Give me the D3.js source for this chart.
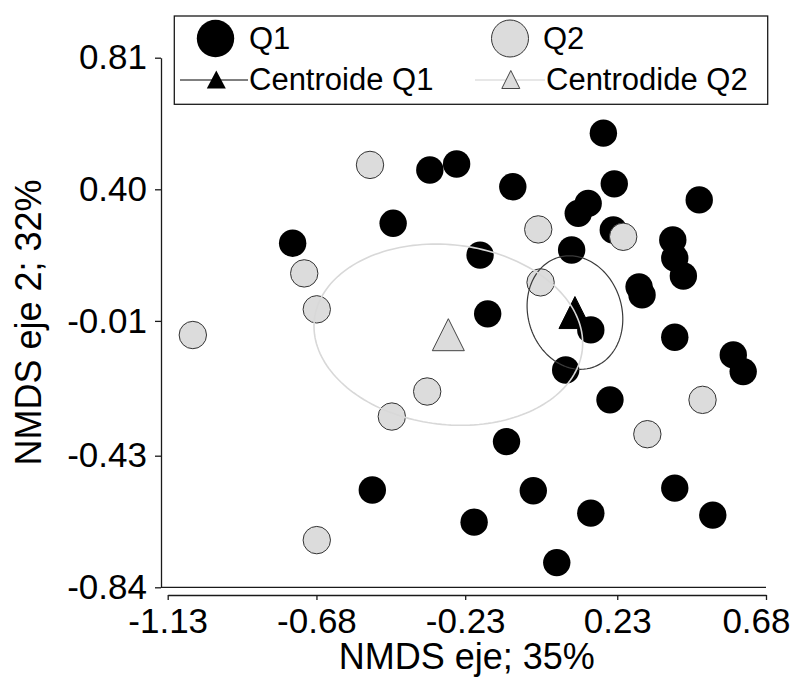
<!DOCTYPE html>
<html>
<head>
<meta charset="utf-8">
<script src="https://cdn.jsdelivr.net/npm/d3@7"></script>
<style>
    body { margin: 0; background: #fff; }
    text { font-family: Arial, "Liberation Sans", sans-serif; fill: #000; }
</style>
</head>
<body>
<div id="chart"></div>
<script>
// NMDS scores: [eje 1, eje 2]
const q1Points = [
    [0.188, 0.575], [-0.337, 0.460], [-0.256, 0.479], [-0.086, 0.408],
    [0.221, 0.417], [0.478, 0.367], [0.142, 0.356], [0.112, 0.325],
    [-0.448, 0.294], [-0.752, 0.232], [0.218, 0.273], [0.398, 0.242],
    [-0.185, 0.195], [0.092, 0.211], [0.404, 0.186], [0.430, 0.130],
    [0.296, 0.096], [0.305, 0.071], [-0.162, 0.012], [0.150, -0.038],
    [0.404, -0.061], [0.581, -0.116], [0.611, -0.168], [0.074, -0.163],
    [0.208, -0.256], [-0.105, -0.386], [-0.511, -0.537], [-0.024, -0.539],
    [0.404, -0.531], [-0.203, -0.637], [0.150, -0.609], [0.519, -0.615],
    [0.047, -0.763]
];

const q2Points = [
    [-0.518, 0.476], [-0.717, 0.138], [-0.679, 0.026], [-1.054, -0.054],
    [-0.009, 0.275], [0.248, 0.252], [-0.002, 0.110], [-0.345, -0.230],
    [-0.452, -0.308], [0.488, -0.256], [0.321, -0.363], [-0.679, -0.693]
];

const centroids = [
    { name: "Q1", x: 0.102, y: 0.016 },
    { name: "Q2", x: -0.281, y: -0.053 }
];

// ellipse semi-axes in data units, angle in degrees (counter-clockwise)
const ellipses = [
    { name: "Q1", rx: 0.142, ry: 0.179, angle: 15 },
    { name: "Q2", rx: 0.408, ry: 0.280, angle: -7 }
];

const xTicks = [-1.13, -0.68, -0.23, 0.23, 0.68];
const yTicks = [0.81, 0.40, -0.01, -0.43, -0.84];

const legendItems = ["Q1", "Q2", "Centroide Q1", "Centrodide Q2"];

const width = 793, height = 684;

const svg = d3.select("#chart")
    .append("svg")
    .attr("width", width)
    .attr("height", height);

const xScale = d3.scaleLinear().domain([-1.13, 0.68]).range([167.7, 766]);
const yScale = d3.scaleLinear().domain([-0.84, 0.81]).range([587.3, 57.7]);

const fmt = (d) => d.toFixed(2);

// Y axis
const yAxis = svg.append("g")
    .attr("transform", "translate(161,0)")
    .call(d3.axisLeft(yScale).tickValues(yTicks).tickSize(6).tickSizeOuter(0).tickPadding(8).tickFormat(fmt));

// X axis (offset below the plot)
const xAxis = svg.append("g")
    .attr("transform", "translate(0,595)")
    .call(d3.axisBottom(xScale).tickValues(xTicks).tickSize(5).tickSizeOuter(0).tickPadding(8).tickFormat(fmt));

[yAxis, xAxis].forEach((g) => {
    g.selectAll("path, line").attr("stroke", "#1a1a1a").attr("stroke-width", 1.3);
    g.selectAll("text")
        .attr("font-family", "Arial, 'Liberation Sans', sans-serif")
        .style("font-size", "35px")
        .attr("fill", "#000");
});

// keep the last x label inside the page
xAxis.selectAll(".tick text")
    .filter((d) => d === 0.68)
    .attr("text-anchor", "end")
    .attr("x", 24);

// bottom line of the plot area
svg.append("line")
    .attr("x1", 161).attr("x2", xScale(0.68))
    .attr("y1", yScale(-0.84)).attr("y2", yScale(-0.84))
    .attr("stroke", "#1a1a1a")
    .attr("stroke-width", 1.3);

// Axis titles
svg.append("text")
    .attr("text-anchor", "middle")
    .attr("x", (xScale(-1.13) + xScale(0.68)) / 2)
    .attr("y", 669)
    .style("font-size", "36px")
    .text("NMDS eje; 35%");

svg.append("text")
    .attr("text-anchor", "middle")
    .attr("transform", `translate(41,${(yScale(0.81) + yScale(-0.84)) / 2}) rotate(-90)`)
    .style("font-size", "36px")
    .text("NMDS eje 2; 32%");

const r = 13.7;

// Points
svg.selectAll(".q1")
    .data(q1Points)
    .enter()
    .append("circle")
    .attr("class", "q1")
    .attr("cx", (d) => xScale(d[0]))
    .attr("cy", (d) => yScale(d[1]))
    .attr("r", r)
    .attr("fill", "#000");

svg.selectAll(".q2")
    .data(q2Points)
    .enter()
    .append("circle")
    .attr("class", "q2")
    .attr("cx", (d) => xScale(d[0]))
    .attr("cy", (d) => yScale(d[1]))
    .attr("r", r)
    .attr("fill", "#dcdcdc")
    .attr("stroke", "#333")
    .attr("stroke-width", 1);

// Triangle centred on its bounding box
const triangle = (w, h) => `M0,${-h / 2}L${w / 2},${h / 2}L${-w / 2},${h / 2}Z`;

const triStyle = {
    Q1: { fill: "#000", stroke: "#000" },
    Q2: { fill: "#dcdcdc", stroke: "#444" }
};

svg.selectAll(".centroid")
    .data(centroids)
    .enter()
    .append("path")
    .attr("class", "centroid")
    .attr("d", triangle(32, 32))
    .attr("transform", (d) => `translate(${xScale(d.x)},${yScale(d.y)})`)
    .attr("fill", (d) => triStyle[d.name].fill)
    .attr("stroke", (d) => triStyle[d.name].stroke)
    .attr("stroke-width", 1);

// Ellipses around the centroids
const ellipseColor = { Q1: "#3a3a3a", Q2: "#d8d8d8" };
const ellipseWidth = { Q1: 1.2, Q2: 1.6 };

ellipses.forEach((e) => {
    const c = centroids.find((d) => d.name === e.name);
    const a = (e.angle * Math.PI) / 180;
    const pts = d3.range(0, 2 * Math.PI + 0.01, Math.PI / 90).map((t) => {
        const dx = e.rx * Math.cos(t), dy = e.ry * Math.sin(t);
        return [
            xScale(c.x + dx * Math.cos(a) - dy * Math.sin(a)),
            yScale(c.y + dx * Math.sin(a) + dy * Math.cos(a))
        ];
    });
    svg.append("path")
        .attr("d", d3.line()(pts) + "Z")
        .attr("fill", "none")
        .attr("stroke", ellipseColor[e.name])
        .attr("stroke-width", ellipseWidth[e.name]);
});

// Legend
const legend = svg.append("g");

legend.append("rect")
    .attr("x", 174.3).attr("y", 16)
    .attr("width", 593.4).attr("height", 88.3)
    .attr("fill", "#fff")
    .attr("stroke", "#1a1a1a")
    .attr("stroke-width", 1.3);

legend.append("circle")
    .attr("cx", 215.5).attr("cy", 38.5).attr("r", 18.7)
    .attr("fill", "#000");

legend.append("circle")
    .attr("cx", 510).attr("cy", 38.5).attr("r", 18.5)
    .attr("fill", "#dcdcdc").attr("stroke", "#333").attr("stroke-width", 1);

legend.append("line")
    .attr("x1", 180).attr("x2", 248).attr("y1", 80).attr("y2", 80)
    .attr("stroke", "#000").attr("stroke-width", 1);

legend.append("path")
    .attr("d", triangle(19, 18))
    .attr("transform", "translate(216.3,79.5)")
    .attr("fill", "#000");

legend.append("line")
    .attr("x1", 475).attr("x2", 545).attr("y1", 80).attr("y2", 80)
    .attr("stroke", "#cfcfcf").attr("stroke-width", 1);

legend.append("path")
    .attr("d", triangle(18, 18))
    .attr("transform", "translate(510.8,79.5)")
    .attr("fill", "#dcdcdc").attr("stroke", "#444").attr("stroke-width", 1);

const legendPos = [[249, 48.5], [543, 48.5], [249, 90], [546, 90]];

legend.selectAll(".legend-text")
    .data(legendItems)
    .enter()
    .append("text")
    .attr("class", "legend-text")
    .attr("x", (d, i) => legendPos[i][0])
    .attr("y", (d, i) => legendPos[i][1])
    .style("font-size", "31px")
    .text((d) => d);
</script>
</body>
</html>
